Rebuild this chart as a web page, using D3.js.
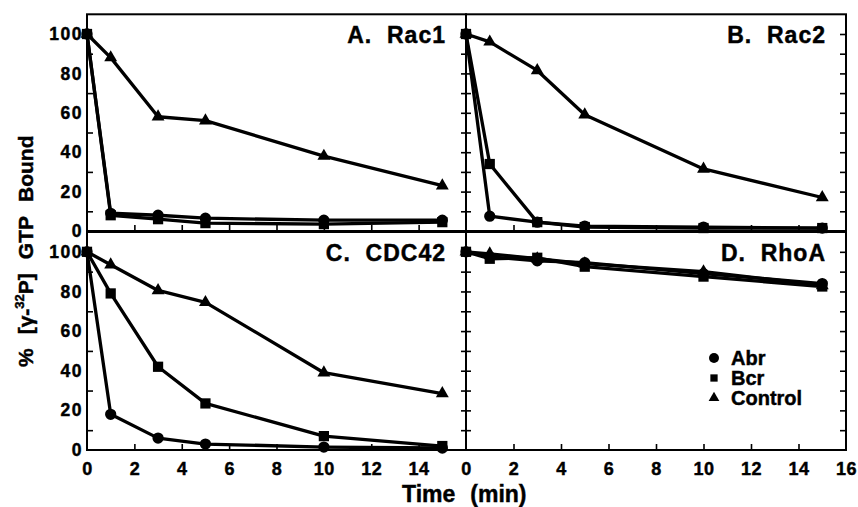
<!DOCTYPE html>
<html>
<head>
<meta charset="utf-8">
<script src="https://cdn.jsdelivr.net/npm/d3@7"></script>
<style>
  html, body { margin: 0; padding: 0; background: #fff; }
  svg { display: block; font-family: "Liberation Sans", Arial, Helvetica, sans-serif; font-weight: bold; }
  svg text { stroke: #000; stroke-width: 0.45px; fill: #000; }
</style>
</head>
<body>
<svg id="chart" width="858" height="507"></svg>
<script>
// ---- data ----
const times = [0, 1, 3, 5, 10, 15];
const seriesNames = ["Abr", "Bcr", "Control"];
const panelTitles = ["A.  Rac1", "B.  Rac2", "C.  CDC42", "D.  RhoA"];

const rac1Abr     = [100, 9, 8, 6.5, 5.5, 5.5];
const rac1Bcr     = [100, 8, 6, 4, 3.5, 4.5];
const rac1Control = [100, 88, 58, 56, 38, 23];

const rac2Abr     = [100, 7.5, 4.5, 2.5, 2, 1.5];
const rac2Bcr     = [100, 34, 4.5, 2, 1.5, 1.5];
const rac2Control = [100, 96, 81.5, 59, 31.5, 17];

const cdc42Abr     = [100, 18, 6, 3, 1.5, 1];
const cdc42Bcr     = [100, 79, 42, 23.5, 7, 2];
const cdc42Control = [100, 93.5, 80.5, 74.5, 39, 28.5];

const rhoaAbr     = [100, 97.5, 95.5, 94.5, 89, 84];
const rhoaBcr     = [100, 96.5, 97, 92.5, 87.5, 82.5];
const rhoaControl = [100, 99, 96.5, 94, 90, 83];

const yTickLabels = [0, 20, 40, 60, 80, 100];
const xTickLabelsLeft = [0, 2, 4, 6, 8, 10, 12, 14];
const xTickLabelsRight = [0, 2, 4, 6, 8, 10, 12, 14, 16];

const panelData = [
  [rac1Abr, rac1Bcr, rac1Control],
  [rac2Abr, rac2Bcr, rac2Control],
  [cdc42Abr, cdc42Bcr, cdc42Control],
  [rhoaAbr, rhoaBcr, rhoaControl]
];

// ---- layout ----
const svg = d3.select("#chart");
const cols = [[87, 466], [466, 846]];
const rows = [[231, 14.3], [450, 232]];
const symbols = [d3.symbolCircle, d3.symbolSquare, d3.symbolTriangle];
const symSizes = [100, 105, 72];

panelData.forEach((series, i) => {
  const c = i % 2, r = Math.floor(i / 2);
  const x = d3.scaleLinear().domain([0, 16]).range(cols[c]);
  const y = d3.scaleLinear().domain([0, 110]).range(rows[r]);
  const g = svg.append("g");

  // frame
  g.append("rect")
    .attr("x", cols[c][0]).attr("y", rows[r][1])
    .attr("width", cols[c][1] - cols[c][0]).attr("height", rows[r][0] - rows[r][1])
    .attr("fill", "none").attr("stroke", "#000").attr("stroke-width", 2);

  const tickStyle = sel => {
    sel.select(".domain").remove();
    sel.selectAll(".tick line").attr("stroke", "#000").attr("stroke-width", 1.6);
  };

  // bottom inward ticks every 2
  g.append("g").attr("transform", `translate(0,${rows[r][0]})`)
    .call(d3.axisTop(x).tickValues([2, 4, 6, 8, 10, 12, 14]).tickSize(6).tickFormat(""))
    .call(tickStyle);

  if (c === 0) {
    g.append("g").attr("transform", `translate(${cols[0][0]},0)`)
      .call(d3.axisRight(y).tickValues([10, 30, 50, 70, 90]).tickSize(6).tickFormat(""))
      .call(tickStyle);
    const ya = g.append("g").attr("transform", `translate(${cols[0][0]},0)`)
      .call(d3.axisLeft(y).tickValues(yTickLabels).tickSize(0).tickPadding(4));
    ya.select(".domain").remove();
    ya.selectAll("text").attr("font-size", 17.5).attr("font-family", null)
      .attr("fill", "#000").style("letter-spacing", "1.5px");
    g.append("g").attr("transform", `translate(${cols[0][1]},0)`)
      .call(d3.axisLeft(y).tickValues(d3.range(10, 101, 10)).tickSize(5).tickFormat(""))
      .call(tickStyle);
    g.append("g").attr("transform", `translate(${cols[0][1]},0)`)
      .call(d3.axisRight(y).tickValues(d3.range(10, 101, 10)).tickSize(5).tickFormat(""))
      .call(tickStyle);
  } else {
    g.append("g").attr("transform", `translate(${cols[1][1]},0)`)
      .call(d3.axisLeft(y).tickValues(d3.range(10, 101, 10)).tickSize(6).tickFormat(""))
      .call(tickStyle);
  }

  if (r === 1) {
    const xa = g.append("g").attr("transform", `translate(0,${rows[1][0]})`)
      .call(d3.axisBottom(x).tickValues(c === 0 ? xTickLabelsLeft : xTickLabelsRight).tickSize(0).tickPadding(12));
    xa.select(".domain").remove();
    xa.selectAll("text").attr("font-size", 18).attr("font-family", null).attr("fill", "#000")
      .style("letter-spacing", "0.5px");
  }

  // panel title
  g.append("text")
    .attr("x", cols[c][1] - 20).attr("y", rows[r][1] + 29)
    .attr("text-anchor", "end").attr("font-size", 23)
    .style("letter-spacing", "1px").style("white-space", "pre")
    .text(panelTitles[i]);

  // lines and markers
  const line = d3.line().x((d, k) => x(times[k])).y(d => y(d));
  series.forEach((vals, s) => {
    g.append("path").datum(vals)
      .attr("d", line).attr("fill", "none")
      .attr("stroke", "#000").attr("stroke-width", 3.3).attr("stroke-linejoin", "round");
  });
  series.forEach((vals, s) => {
    g.selectAll(null).data(vals).enter().append("path")
      .attr("transform", (d, k) => `translate(${x(times[k])},${y(d)})`)
      .attr("d", d3.symbol().type(symbols[s]).size(symSizes[s]))
      .attr("fill", "#000");
  });
});

// legend
const legSizes = [78, 53, 50];
const leg = svg.append("g");
seriesNames.forEach((name, s) => {
  const ly = 358 + s * 20;
  leg.append("path")
    .attr("transform", `translate(714,${ly})`)
    .attr("d", d3.symbol().type(symbols[s]).size(legSizes[s]))
    .attr("fill", "#000");
  leg.append("text").attr("x", 731).attr("y", ly + 7)
    .attr("font-size", 20).text(name);
});

// axis titles
const xt = svg.append("text").attr("x", 402).attr("y", 502).attr("font-size", 23);
xt.append("tspan").text("Time");
xt.append("tspan").attr("dx", 15).text("(min)");

const yt = svg.append("text").attr("transform", "translate(33,367) rotate(-90)").attr("font-size", 21);
yt.append("tspan").text("%");
yt.append("tspan").attr("dx", 14).text("[\u03B3-");
yt.append("tspan").attr("font-size", 13).attr("dy", -9).text("32");
yt.append("tspan").attr("dy", 9).text("P]");
yt.append("tspan").attr("dx", 14).text("GTP");
yt.append("tspan").attr("dx", 14).text("Bound");
</script>
</body>
</html>
